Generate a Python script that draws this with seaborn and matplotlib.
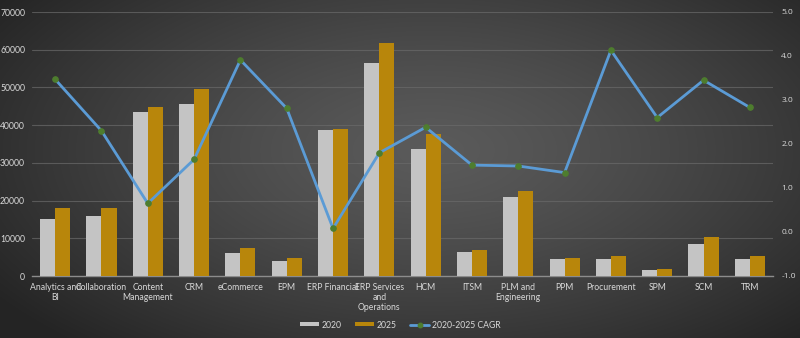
import numpy as np
import pandas as pd
import matplotlib
matplotlib.use("Agg")
import matplotlib.pyplot as plt
from matplotlib.lines import Line2D
from matplotlib.patches import Patch
import seaborn as sns

# ---- data -------------------------------------------------------------
categories = ["Analytics and\nBI", "Collaboration", "Content\nManagement", "CRM",
              "eCommerce", "EPM", "ERP Financial", "ERP Services\nand\nOperations",
              "HCM", "ITSM", "PLM and\nEngineering", "PPM", "Procurement",
              "SPM", "SCM", "TRM"]
rev_2020 = [15200, 15900, 43500, 45600, 6100, 4100, 38700, 56400,
            33700, 6300, 20950, 4500, 4500, 1500, 8500, 4500]
rev_2025 = [18000, 18000, 44900, 49600, 7500, 4800, 38900, 61800,
            37700, 6900, 22550, 4770, 5300, 1770, 10260, 5300]
cagr = [3.47, 2.30, 0.65, 1.65, 3.91, 2.81, 0.08, 1.80,
        2.38, 1.52, 1.50, 1.35, 4.13, 2.60, 3.45, 2.83]
series_names = ["2020", "2025"]
line_name = "2020-2025 CAGR"
left_ticks = [0, 10000, 20000, 30000, 40000, 50000, 60000, 70000]
right_ticks = [-1.0, 0.0, 1.0, 2.0, 3.0, 4.0, 5.0]

# ---- style ------------------------------------------------------------
sns.set_style("dark")
plt.rcParams["font.family"] = ["Lato", "DejaVu Sans"]
text_col = "#d9d9d9"
grey_bar = "#c4c4c4"
gold_bar = "#b8860b"
line_col = "#5b9bd5"
marker_col = "#4e7d2e"
fs = 6.2

fig = plt.figure(figsize=(8.0, 3.38), dpi=100)

# radial background: lighter in the middle, darker toward the corners
bg = fig.add_axes([0, 0, 1, 1], zorder=-10)
yy, xx = np.mgrid[0:338, 0:800]
r = np.sqrt(((xx - 430) / 520.0) ** 2 + ((yy - 150) / 260.0) ** 2)
r = np.clip(r, 0, 1)
shade = 0.355 - 0.21 * r ** 1.3
img = np.dstack([shade, shade, shade])
bg.imshow(img, aspect="auto", extent=[0, 1, 0, 1], origin="upper")
bg.axis("off")

ax = fig.add_axes([32 / 800, 1 - 276 / 338, (773 - 32) / 800, (276 - 12) / 338])
ax.set_facecolor("none")

df = pd.DataFrame({
    "category": categories * 2,
    "series": [series_names[0]] * len(categories) + [series_names[1]] * len(categories),
    "value": rev_2020 + rev_2025,
})
sns.barplot(data=df, x="category", y="value", hue="series",
            palette=[grey_bar, gold_bar], width=0.65, gap=0,
            saturation=1, ax=ax, legend=False, zorder=3)
for bar in ax.patches:
    bar.set_edgecolor("none")

ax.set_ylim(0, 70000)
ax.set_xlim(-0.5, len(categories) - 0.5)
ax.set_yticks(left_ticks)
ax.set_yticklabels([str(t) for t in left_ticks])
ax.grid(axis="y", color="#6a6a6a", linewidth=0.8, alpha=0.7, zorder=0)
ax.grid(axis="x", visible=False)
ax.set_xlabel("")
ax.set_ylabel("")
for s in ["top", "right", "left"]:
    ax.spines[s].set_visible(False)
ax.spines["bottom"].set_color("#8c8c8c")
ax.spines["bottom"].set_linewidth(1.0)
ax.tick_params(axis="both", length=0, colors=text_col, labelsize=fs)
ax.tick_params(axis="y", pad=5)
ax.tick_params(axis="x", pad=5)
for lab in ax.get_xticklabels():
    lab.set_linespacing(1.15)

# CAGR line on a secondary axis
ax2 = ax.twinx()
ax2.set_facecolor("none")
sns.lineplot(x=np.arange(len(categories)), y=cagr, ax=ax2, color=line_col,
             linewidth=2.0, marker="o", markersize=4.0,
             markerfacecolor=marker_col, markeredgecolor=marker_col, zorder=5)
ax2.set_ylim(-1.0, 5.0)
ax2.set_yticks(right_ticks)
ax2.set_yticklabels([f"{t:.1f}" for t in right_ticks], family=["Open Sans", "DejaVu Sans"])
ax2.tick_params(axis="y", length=0, colors=text_col, labelsize=6.0, pad=6)
ax2.grid(False)
for s in ax2.spines.values():
    s.set_visible(False)
ax2.set_xlim(-0.5, len(categories) - 0.5)

handles = [Patch(facecolor=grey_bar, edgecolor="none", label=series_names[0]),
           Patch(facecolor=gold_bar, edgecolor="none", label=series_names[1]),
           Line2D([0], [0], color=line_col, linewidth=2.0, marker="o",
                  markersize=3.2, markerfacecolor=marker_col,
                  markeredgecolor=marker_col, label=line_name)]
fig.legend(handles=handles, loc="center", bbox_to_anchor=(0.5, 1 - 325 / 338),
           ncol=3, frameon=False, fontsize=fs, labelcolor=text_col,
           handlelength=2.2, handleheight=0.35, handletextpad=0.3,
           columnspacing=1.6)

fig.savefig("out.png", dpi=100)
